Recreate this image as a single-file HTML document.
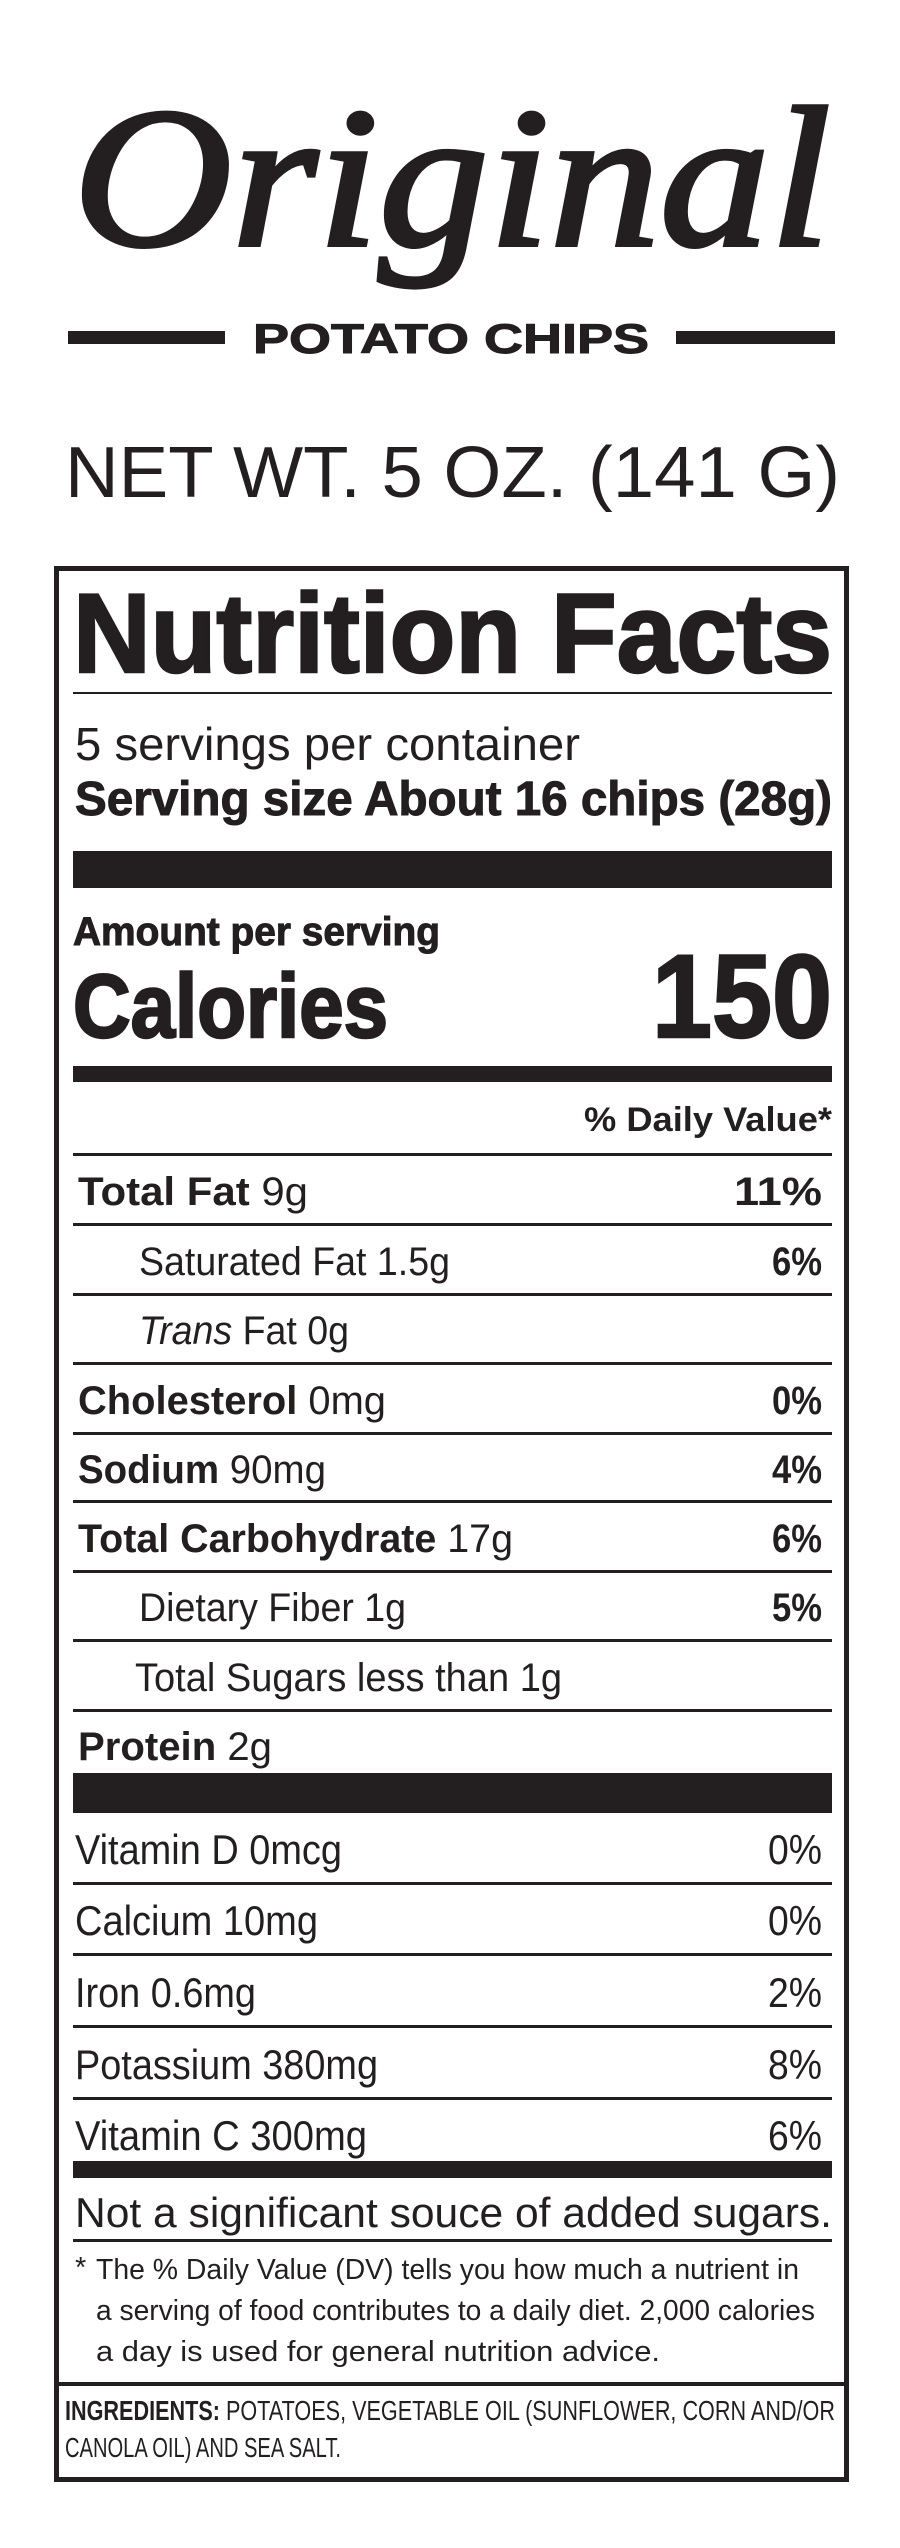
<!DOCTYPE html>
<html><head><meta charset="utf-8"><style>
html,body{margin:0;padding:0;background:#fff;}
svg{display:block;}
text{fill:#231f20;}
.b{font-family:"Liberation Sans Narrow","Liberation Sans",sans-serif;font-weight:bold;}
.r{font-family:"Liberation Sans Narrow","Liberation Sans",sans-serif;}
.w{font-family:"Liberation Sans",sans-serif;}
.h{stroke:#231f20;stroke-width:2.5;}
</style></head><body>
<svg width="900" height="2548" viewBox="0 0 900 2548" xmlns="http://www.w3.org/2000/svg">
<rect width="900" height="2548" fill="#fff"/>
<text x="73" y="245" font-family="Liberation Serif,serif" font-style="italic" font-size="200" textLength="758" lengthAdjust="spacingAndGlyphs" stroke="#231f20" stroke-width="4">Original</text>
<rect x="68" y="331" width="157" height="13" fill="#231f20"/>
<rect x="676" y="331" width="159" height="13" fill="#231f20"/>
<text x="253" y="353" class="w" font-weight="bold" font-size="42" textLength="396" lengthAdjust="spacingAndGlyphs" stroke="#231f20" stroke-width="1">POTATO CHIPS</text>
<text x="65" y="497" class="w" font-size="72" textLength="775" lengthAdjust="spacingAndGlyphs">NET WT. 5 OZ. (141 G)</text>

<rect x="56.5" y="568.5" width="790" height="1911" fill="none" stroke="#231f20" stroke-width="5"/>
<text x="73" y="672" class="b h" font-size="112" textLength="759" lengthAdjust="spacingAndGlyphs">Nutrition Facts</text>
<rect x="73" y="692" width="759" height="2" fill="#231f20"/>
<text x="75" y="760" class="r" font-size="46" textLength="505" lengthAdjust="spacingAndGlyphs">5 servings per container</text>
<text x="75" y="815" class="b" font-size="48" textLength="757" lengthAdjust="spacingAndGlyphs" stroke="#231f20" stroke-width="1">Serving size About 16 chips (28g)</text>
<rect x="73" y="851" width="759" height="37" fill="#231f20"/>
<text x="73" y="945" class="b" font-size="40" textLength="367" lengthAdjust="spacingAndGlyphs" stroke="#231f20" stroke-width="1">Amount per serving</text>
<text x="73" y="1037" class="b h" font-size="90" textLength="315" lengthAdjust="spacingAndGlyphs">Calories</text>
<text x="652" y="1037" class="b h" font-size="118" textLength="180" lengthAdjust="spacingAndGlyphs">150</text>
<rect x="73" y="1066" width="759" height="16" fill="#231f20"/>
<text x="584" y="1131" class="b" font-size="34" textLength="248" lengthAdjust="spacingAndGlyphs">% Daily Value*</text>
<g fill="#231f20">
<rect x="73" y="1153" width="759" height="3"/>
<rect x="73" y="1223" width="759" height="3"/>
<rect x="73" y="1293" width="759" height="3"/>
<rect x="73" y="1362" width="759" height="3"/>
<rect x="73" y="1432" width="759" height="3"/>
<rect x="73" y="1500" width="759" height="3"/>
<rect x="73" y="1570" width="759" height="3"/>
<rect x="73" y="1639" width="759" height="3"/>
<rect x="73" y="1709" width="759" height="3"/>
<rect x="73" y="1773" width="759" height="40"/>
<rect x="73" y="1882" width="759" height="3"/>
<rect x="73" y="1953" width="759" height="3"/>
<rect x="73" y="2025" width="759" height="3"/>
<rect x="73" y="2097" width="759" height="3"/>
<rect x="73" y="2161" width="759" height="17"/>
<rect x="73" y="2239" width="759" height="3"/>
<rect x="56" y="2382" width="790" height="4"/>
</g>
<g font-size="40">
<text x="78" y="1205" class="r" textLength="230" lengthAdjust="spacingAndGlyphs"><tspan class="b">Total Fat</tspan> 9g</text>
<text x="734" y="1205" class="b" textLength="88" lengthAdjust="spacingAndGlyphs">11%</text>
<text x="139" y="1275" class="r" textLength="311" lengthAdjust="spacingAndGlyphs">Saturated Fat 1.5g</text>
<text x="772" y="1275" class="b" textLength="50" lengthAdjust="spacingAndGlyphs">6%</text>
<text x="139" y="1344" class="r" textLength="210" lengthAdjust="spacingAndGlyphs"><tspan font-style="italic">Trans</tspan> Fat 0g</text>
<text x="78" y="1414" class="r" textLength="308" lengthAdjust="spacingAndGlyphs"><tspan class="b">Cholesterol</tspan> 0mg</text>
<text x="772" y="1414" class="b" textLength="50" lengthAdjust="spacingAndGlyphs">0%</text>
<text x="78" y="1483" class="r" textLength="248" lengthAdjust="spacingAndGlyphs"><tspan class="b">Sodium</tspan> 90mg</text>
<text x="772" y="1483" class="b" textLength="50" lengthAdjust="spacingAndGlyphs">4%</text>
<text x="78" y="1552" class="r" textLength="435" lengthAdjust="spacingAndGlyphs"><tspan class="b">Total Carbohydrate</tspan> 17g</text>
<text x="772" y="1552" class="b" textLength="50" lengthAdjust="spacingAndGlyphs">6%</text>
<text x="139" y="1621" class="r" textLength="267" lengthAdjust="spacingAndGlyphs">Dietary Fiber 1g</text>
<text x="772" y="1621" class="b" textLength="50" lengthAdjust="spacingAndGlyphs">5%</text>
<text x="135" y="1691" class="r" textLength="427" lengthAdjust="spacingAndGlyphs">Total Sugars less than 1g</text>
<text x="78" y="1760" class="r" textLength="194" lengthAdjust="spacingAndGlyphs"><tspan class="b">Protein</tspan> 2g</text>
</g>
<g font-size="42" class="r">
<text x="75" y="1864" class="r" textLength="267" lengthAdjust="spacingAndGlyphs">Vitamin D 0mcg</text>
<text x="768" y="1864" class="r" textLength="54" lengthAdjust="spacingAndGlyphs">0%</text>
<text x="75" y="1935" class="r" textLength="243" lengthAdjust="spacingAndGlyphs">Calcium 10mg</text>
<text x="768" y="1935" class="r" textLength="54" lengthAdjust="spacingAndGlyphs">0%</text>
<text x="75" y="2007" class="r" textLength="181" lengthAdjust="spacingAndGlyphs">Iron 0.6mg</text>
<text x="768" y="2007" class="r" textLength="54" lengthAdjust="spacingAndGlyphs">2%</text>
<text x="75" y="2079" class="r" textLength="303" lengthAdjust="spacingAndGlyphs">Potassium 380mg</text>
<text x="768" y="2079" class="r" textLength="54" lengthAdjust="spacingAndGlyphs">8%</text>
<text x="75" y="2150" class="r" textLength="292" lengthAdjust="spacingAndGlyphs">Vitamin C 300mg</text>
<text x="768" y="2150" class="r" textLength="54" lengthAdjust="spacingAndGlyphs">6%</text>
<text x="75" y="2227" class="r" textLength="757" lengthAdjust="spacingAndGlyphs">Not a significant souce of added sugars.</text>
</g>
<g font-size="29">
<text x="75" y="2277" class="r">*</text>
<text x="96" y="2279" class="r" textLength="703" lengthAdjust="spacingAndGlyphs">The % Daily Value (DV) tells you how much a nutrient in</text>
<text x="96" y="2320" class="r" textLength="719" lengthAdjust="spacingAndGlyphs">a serving of food contributes to a daily diet. 2,000 calories</text>
<text x="96" y="2361" class="r" textLength="564" lengthAdjust="spacingAndGlyphs">a day is used for general nutrition advice.</text>
</g>
<g font-size="28">
<text x="65" y="2420" class="r" textLength="770" lengthAdjust="spacingAndGlyphs"><tspan class="b">INGREDIENTS:</tspan> POTATOES, VEGETABLE OIL (SUNFLOWER, CORN AND/OR</text>
<text x="65" y="2457" class="r" textLength="276" lengthAdjust="spacingAndGlyphs">CANOLA OIL) AND SEA SALT.</text>
</g>
</svg>
</body></html>
